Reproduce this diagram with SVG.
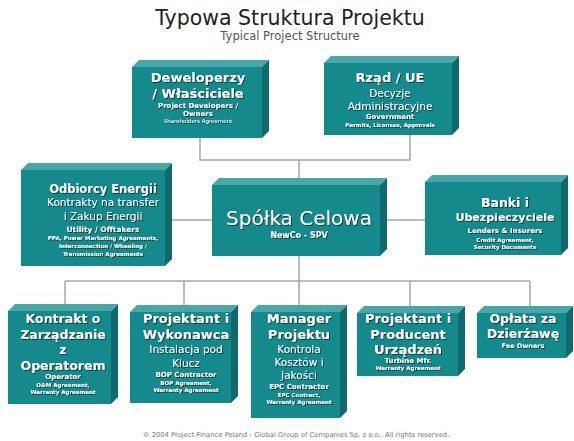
<svg xmlns="http://www.w3.org/2000/svg" width="574" height="441" viewBox="0 0 574 441">
<defs>
<filter id="sh" x="-10%" y="-30%" width="120%" height="160%">
<feDropShadow dx="0.9" dy="0.9" stdDeviation="0.35" flood-color="#062e2e" flood-opacity="0.95"/>
</filter>
</defs>
<style>
.f{fill:#158a8c}
.t{fill:#4aa7a7}
.s{fill:#0e6a6c}
.tx{font-family:"DejaVu Sans",Verdana,sans-serif;fill:#ffffff;text-anchor:middle;filter:url(#sh)}
.b{font-weight:bold}
.c{stroke:#a8a8a8;stroke-width:1.5;fill:none}
.title{font-family:"DejaVu Sans",Verdana,sans-serif;text-anchor:middle}
</style>
<rect width="574" height="441" fill="#ffffff"/>
<text class="title" x="290" y="25" font-size="20.5" fill="#222">Typowa Struktura Projektu</text>
<text class="title" x="290" y="40" font-size="11.5" fill="#555">Typical Project Structure</text>

<g id="connectors" class="c">
<path d="M200 138V160H410V135M299 160V178"/>
<path d="M172 220H212M387 220H425"/>
<path d="M299 256V281M65 281H530M65 281V304M184 281V305M299 281V305M410 281V306M530 281V306"/>
</g>

<g id="deweloperzy">
<path class="t" d="M132 67L139 60H269L262 67Z"/><path class="s" d="M262 67L269 60V131L262 138Z"/><rect class="f" x="132" y="67" width="130" height="71"/>
<text class="tx b" x="198" y="82" font-size="13">Deweloperzy</text>
<text class="tx b" x="198" y="98" font-size="13">/ Właściciele</text>
<text class="tx b" x="198" y="108" font-size="7">Project Developers /</text>
<text class="tx b" x="198" y="116" font-size="7">Owners</text>
<text class="tx" x="198" y="123" font-size="5.5">Shareholders Agreement</text>
</g>

<g id="rzad">
<path class="t" d="M324 63L331 56H459L452 63Z"/><path class="s" d="M452 63L459 56V128L452 135Z"/><rect class="f" x="324" y="63" width="128" height="72"/>
<text class="tx b" x="390" y="82" font-size="13">Rząd / UE</text>
<text class="tx" x="390" y="97" font-size="10.5">Decyzje</text>
<text class="tx" x="390" y="110" font-size="10.5">Administracyjne</text>
<text class="tx b" x="390" y="119" font-size="7">Government</text>
<text class="tx b" x="390" y="127" font-size="5.5">Permits, Licenses, Approvals</text>
</g>

<g id="odbiorcy">
<path class="t" d="M21 170L28 163H172L165 170Z"/><path class="s" d="M165 170L172 163V259L165 266Z"/><rect class="f" x="21" y="170" width="144" height="96"/>
<text class="tx b" x="103" y="193" font-size="11.5">Odbiorcy Energii</text>
<text class="tx" x="103" y="206" font-size="10.5">Kontrakty na transfer</text>
<text class="tx" x="103" y="220" font-size="10.5">i Zakup Energii</text>
<text class="tx b" x="103" y="232" font-size="7.5">Utility / Offtakers</text>
<text class="tx b" x="103" y="240" font-size="5.5">PPA, Power Marketing Agreements,</text>
<text class="tx b" x="103" y="248" font-size="5.5">Interconnection / Wheeling /</text>
<text class="tx b" x="103" y="256" font-size="5.5">Transmission Agreements</text>
</g>

<g id="spolka">
<path class="t" d="M212 185L219 178H387L380 185Z"/><path class="s" d="M380 185L387 178V249L380 256Z"/><rect class="f" x="212" y="185" width="168" height="71"/>
<text class="tx" x="299" y="225" font-size="20">Spółka Celowa</text>
<text class="tx b" x="299" y="238" font-size="8">NewCo - SPV</text>
</g>

<g id="banki">
<path class="t" d="M425 182L432 175H568L561 182Z"/><path class="s" d="M561 182L568 175V248L561 255Z"/><rect class="f" x="425" y="182" width="136" height="73"/>
<text class="tx b" x="505" y="207" font-size="12.5">Banki i</text>
<text class="tx b" x="505" y="221" font-size="11">Ubezpieczyciele</text>
<text class="tx b" x="505" y="233" font-size="7">Lenders &amp; Insurers</text>
<text class="tx b" x="505" y="242" font-size="5.5">Credit Agreement,</text>
<text class="tx b" x="505" y="249" font-size="5.5">Security Documents</text>
</g>

<g id="kontrakt">
<path class="t" d="M8 311L15 304H118L111 311Z"/><path class="s" d="M111 311L118 304V397L111 404Z"/><rect class="f" x="8" y="311" width="103" height="93"/>
<text class="tx b" x="63" y="323" font-size="12.5">Kontrakt o</text>
<text class="tx b" x="63" y="339" font-size="12.5">Zarządzanie</text>
<text class="tx b" x="63" y="354" font-size="12.5">z</text>
<text class="tx b" x="63" y="370" font-size="12.5">Operatorem</text>
<text class="tx b" x="63" y="379" font-size="7">Operator</text>
<text class="tx b" x="63" y="387" font-size="5.5">O&amp;M Agreement,</text>
<text class="tx b" x="63" y="394" font-size="5.5">Warranty Agreement</text>
</g>

<g id="projektant-wykonawca">
<path class="t" d="M130 312L137 305H238L231 312Z"/><path class="s" d="M231 312L238 305V396L231 403Z"/><rect class="f" x="130" y="312" width="101" height="91"/>
<text class="tx b" x="186" y="323" font-size="13">Projektant i</text>
<text class="tx b" x="186" y="339" font-size="13">Wykonawca</text>
<text class="tx" x="186" y="353" font-size="10.5">Instalacja pod</text>
<text class="tx" x="186" y="367" font-size="10.5">Klucz</text>
<text class="tx b" x="186" y="377" font-size="7">BOP Contractor</text>
<text class="tx b" x="186" y="385" font-size="5.5">BOP Agreement,</text>
<text class="tx b" x="186" y="392" font-size="5.5">Warranty Agreement</text>
</g>

<g id="manager">
<path class="t" d="M251 312L258 305H347L340 312Z"/><path class="s" d="M340 312L347 305V411L340 418Z"/><rect class="f" x="251" y="312" width="89" height="106"/>
<text class="tx b" x="299" y="323" font-size="13">Manager</text>
<text class="tx b" x="299" y="339" font-size="13">Projektu</text>
<text class="tx" x="299" y="353" font-size="10.5">Kontrola</text>
<text class="tx" x="299" y="366" font-size="10.5">Kosztów i</text>
<text class="tx" x="299" y="379" font-size="10.5">Jakości</text>
<text class="tx b" x="299" y="389" font-size="7">EPC Contractor</text>
<text class="tx b" x="299" y="397" font-size="5.5">EPC Contract,</text>
<text class="tx b" x="299" y="404" font-size="5.5">Warranty Agreement</text>
</g>

<g id="projektant-producent">
<path class="t" d="M357 313L364 306H465L458 313Z"/><path class="s" d="M458 313L465 306V369L458 376Z"/><rect class="f" x="357" y="313" width="101" height="63"/>
<text class="tx b" x="408" y="323" font-size="13">Projektant i</text>
<text class="tx b" x="408" y="339" font-size="13">Producent</text>
<text class="tx b" x="408" y="354" font-size="13">Urządzeń</text>
<text class="tx b" x="408" y="363" font-size="7">Turbine Mfr.</text>
<text class="tx b" x="408" y="370" font-size="5.5">Warranty Agreement</text>
</g>

<g id="oplata">
<path class="t" d="M477 313L484 306H573L566 313Z"/><path class="s" d="M566 313L573 306V351L566 358Z"/><rect class="f" x="477" y="313" width="89" height="45"/>
<text class="tx b" x="523" y="323" font-size="12.5">Opłata za</text>
<text class="tx b" x="523" y="338" font-size="12.5">Dzierżawę</text>
<text class="tx b" x="523" y="348" font-size="6.5">Fee Owners</text>
</g>

<text class="title" x="296" y="437" font-size="6.8" fill="#777">© 2004 Project Finance Poland - Global Group of Companies Sp. z o.o.. All rights reserved.</text>
</svg>
